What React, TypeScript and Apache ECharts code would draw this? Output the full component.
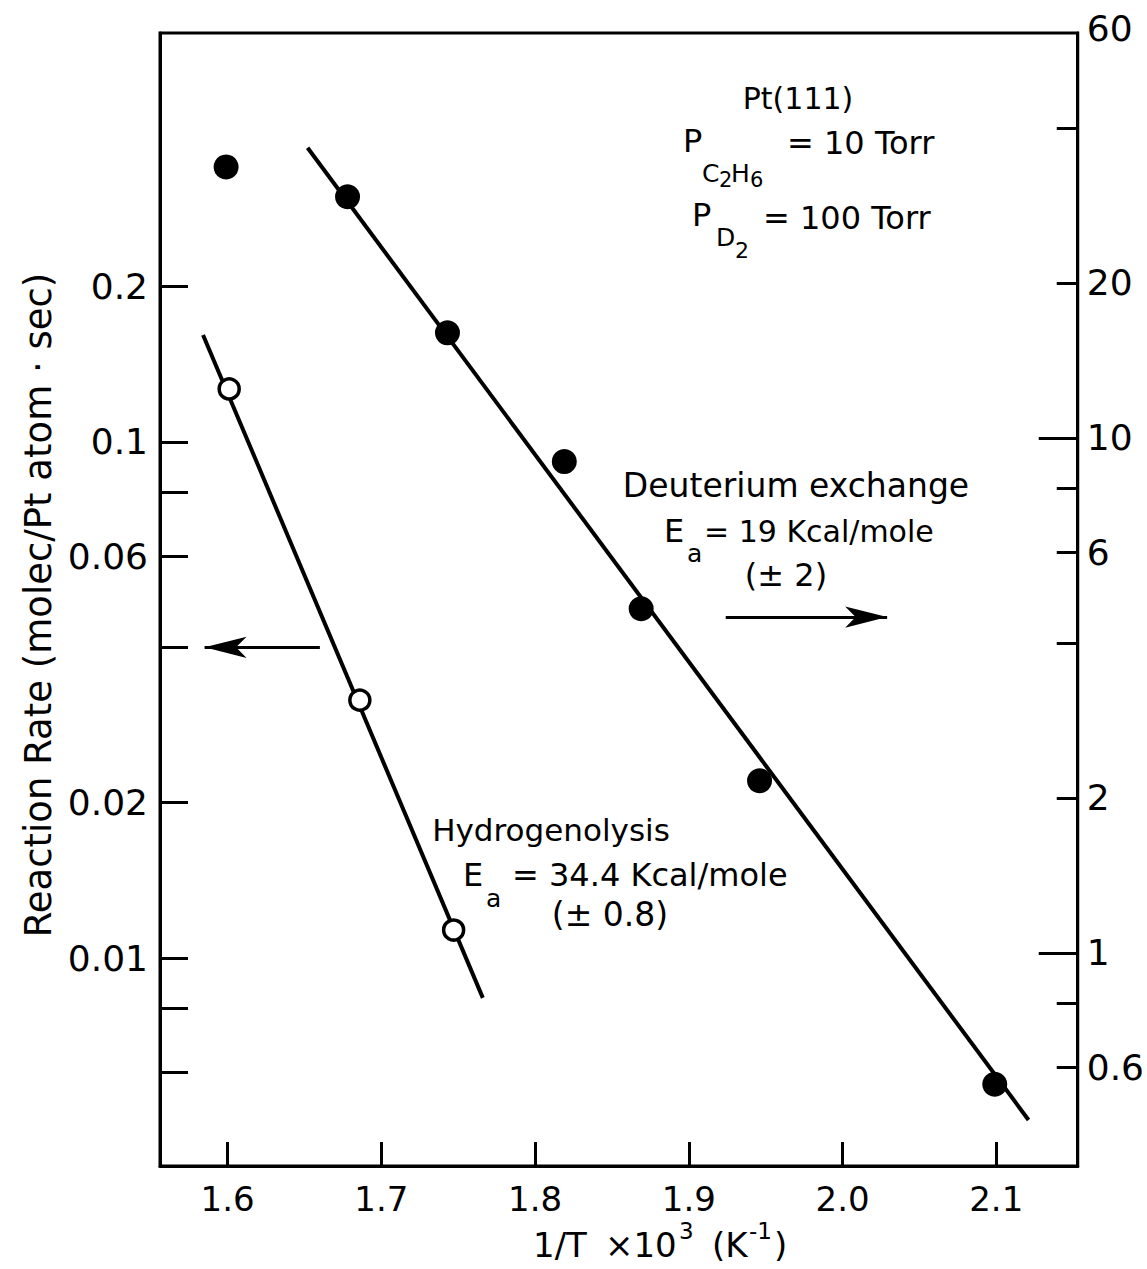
import React, { useEffect, useRef } from "react";
import * as echarts from "echarts";

// ---- data ----
const xTicks = [1.6, 1.7, 1.8, 1.9, 2.0, 2.1];
const leftTickValues = [0.2, 0.1, 0.08, 0.06, 0.04, 0.02, 0.01, 0.008, 0.006];
const leftLabelValues = [0.2, 0.1, 0.06, 0.02, 0.01];
const rightTickValues = [40, 20, 8, 6, 4, 2, 0.8, 0.6];
const rightLongTickValues = [10, 1];
const rightLabelValues = [60, 20, 10, 6, 2, 1, 0.6];

// Deuterium exchange (right axis)
const exchangeX = [1.599, 1.678, 1.743, 1.819, 1.869, 1.946, 2.099];
const exchangeRate = [33.6, 29.4, 16.0, 9.0, 4.66, 2.16, 0.556];
const exchangeFitX = [1.652, 2.121];
const exchangeFitRate = [36.6, 0.474];

// Hydrogenolysis (left axis)
const hydroX = [1.601, 1.686, 1.747];
const hydroRate = [0.1267, 0.0316, 0.01133];
const hydroFitX = [1.584, 1.766];
const hydroFitRate = [0.1612, 0.00837];

// arrows
const leftArrowX = [1.66, 1.585];
const leftArrowRate = 0.04;
const rightArrowX = [1.924, 2.029];
const rightArrowRate = 4.49;

// axis ranges
const xMin = 1.556;
const xMax = 2.153;
const leftMin = 0.003953;
const leftMax = 0.6203;
const rightMin = 0.3858;
const rightMax = 61.15;

const FONT = '"DejaVu Sans", sans-serif';
const lg = (v: number) => Math.log10(v);
const labelFor = (list: number[]) => (v: number) => {
  const hit = list.find((t) => Math.abs(lg(t) - v) < 1e-6);
  return hit === undefined ? "" : String(hit);
};

const txt = (
  text: string,
  x: number,
  y: number,
  size: number,
  align: string = "left",
  extra: any = {},
  styleExtra: any = {}
) => ({
  type: "text",
  x,
  y,
  silent: true,
  ...extra,
  style: {
    text,
    fill: "#000",
    fontSize: size,
    fontFamily: FONT,
    align,
    verticalAlign: "middle",
    ...styleExtra,
  },
});

export default function App() {
  const ref = useRef<HTMLDivElement>(null);

  useEffect(() => {
    if (!ref.current) return;
    const chart = echarts.init(ref.current, null, { renderer: "svg" });

    const axisLine = { show: true, onZero: false, lineStyle: { color: "#000", width: 3 } };
    const tickStyle = { color: "#000", width: 3 };
    const rightLabel = labelFor(rightLabelValues);

    const option: any = {
      animation: false,
      backgroundColor: "#fff",
      grid: {
        left: 160,
        right: 66,
        top: 33,
        bottom: 103,
        show: true,
        borderColor: "#000",
        borderWidth: 3,
      },
      xAxis: {
        type: "value",
        min: xMin,
        max: xMax,
        axisLine,
        splitLine: { show: false },
        axisTick: {
          show: true,
          inside: true,
          length: 24,
          lineStyle: tickStyle,
          customValues: xTicks,
        },
        axisLabel: {
          customValues: xTicks,
          formatter: (v: number) => v.toFixed(1),
          fontSize: 34,
          fontFamily: FONT,
          color: "#000",
          margin: 16,
        },
      },
      yAxis: [
        {
          type: "value",
          position: "left",
          min: lg(leftMin),
          max: lg(leftMax),
          axisLine,
          splitLine: { show: false },
          axisTick: {
            show: true,
            inside: true,
            length: 28,
            lineStyle: tickStyle,
            customValues: leftTickValues.map(lg),
          },
          axisLabel: {
            customValues: leftLabelValues.map(lg),
            formatter: labelFor(leftLabelValues),
            fontSize: 36,
            fontFamily: FONT,
            color: "#000",
            margin: 12,
          },
        },
        {
          type: "value",
          position: "right",
          min: lg(rightMin),
          max: lg(rightMax),
          axisLine,
          splitLine: { show: false },
          axisTick: {
            show: true,
            inside: true,
            length: 21,
            lineStyle: tickStyle,
            customValues: rightTickValues.map(lg),
          },
          axisLabel: {
            customValues: rightLabelValues.map(lg),
            formatter: (v: number) => {
              const s = rightLabel(v);
              return s === "60" ? "{top|60}" : s;
            },
            rich: {
              top: { fontSize: 36, fontFamily: FONT, color: "#000", padding: [0, 0, 18, 0] },
            },
            fontSize: 36,
            fontFamily: FONT,
            color: "#000",
            margin: 9,
          },
        },
        {
          type: "value",
          position: "right",
          min: lg(rightMin),
          max: lg(rightMax),
          axisLine: { show: false },
          splitLine: { show: false },
          axisTick: {
            show: true,
            inside: true,
            length: 39,
            lineStyle: tickStyle,
            customValues: rightLongTickValues.map(lg),
          },
          axisLabel: { show: false },
        },
      ],
      series: [
        {
          type: "line",
          yAxisIndex: 0,
          showSymbol: false,
          symbol: "none",
          lineStyle: { color: "#000", width: 4 },
          data: hydroFitX.map((x, i) => [x, lg(hydroFitRate[i])]),
          markLine: {
            silent: true,
            symbol: ["none", "arrow"],
            label: { show: false },
            lineStyle: { color: "#000", width: 3, type: "solid" },
            data: [
              [
                { coord: [leftArrowX[0], lg(leftArrowRate)], symbol: "none" },
                { coord: [leftArrowX[1], lg(leftArrowRate)], symbol: "arrow", symbolSize: [16, 42] },
              ],
            ],
          },
          z: 2,
        },
        {
          type: "scatter",
          yAxisIndex: 0,
          symbol: "circle",
          symbolSize: 20,
          itemStyle: { color: "#fff", borderColor: "#000", borderWidth: 3.5, opacity: 1 },
          data: hydroX.map((x, i) => [x, lg(hydroRate[i])]),
          z: 3,
        },
        {
          type: "line",
          yAxisIndex: 1,
          showSymbol: false,
          symbol: "none",
          lineStyle: { color: "#000", width: 4 },
          data: exchangeFitX.map((x, i) => [x, lg(exchangeFitRate[i])]),
          markLine: {
            silent: true,
            symbol: ["none", "arrow"],
            label: { show: false },
            lineStyle: { color: "#000", width: 3, type: "solid" },
            data: [
              [
                { coord: [rightArrowX[0], lg(rightArrowRate)], symbol: "none" },
                { coord: [rightArrowX[1], lg(rightArrowRate)], symbol: "arrow", symbolSize: [16, 42] },
              ],
            ],
          },
          z: 2,
        },
        {
          type: "scatter",
          yAxisIndex: 1,
          symbol: "circle",
          symbolSize: 25,
          itemStyle: { color: "#000", opacity: 1 },
          data: exchangeX.map((x, i) => [x, lg(exchangeRate[i])]),
          z: 3,
        },
      ],
      graphic: [
        txt("Pt(111)", 798, 98, 30, "center"),
        txt("P", 683, 141, 32),
        txt("C", 702, 173, 25),
        txt("2", 719, 180, 21),
        txt("H", 731, 173, 25),
        txt("6", 750, 180, 21),
        txt("= 10 Torr", 787, 143, 32),
        txt("P", 692, 215, 32),
        txt("D", 716, 237, 25),
        txt("2", 735, 250, 22),
        txt("= 100 Torr", 763, 218, 32),
        txt("Deuterium exchange", 796, 485, 33, "center"),
        txt("E", 664, 531, 32),
        txt("a", 687, 553, 25),
        txt("= 19 Kcal/mole", 704, 531, 30),
        txt("(± 2)", 786, 575, 32, "center"),
        txt("Hydrogenolysis", 551, 830, 31, "center"),
        txt("E", 463, 875, 32),
        txt("a", 486, 898, 25),
        txt("= 34.4 Kcal/mole", 512, 875, 32),
        txt("(± 0.8)", 610, 914, 33, "center"),
        txt("Reaction Rate (molec/Pt atom · sec)", 38, 605, 37, "center", {
          rotation: Math.PI / 2,
        }),
        txt("1/T", 533, 1245, 34),
        txt("×10", 605, 1245, 34),
        txt("3", 679, 1231, 23),
        txt("(K", 712, 1245, 34),
        txt("-1", 749, 1231, 23),
        txt(")", 774, 1245, 34),
      ],
    };

    chart.setOption(option);
    return () => chart.dispose();
  }, []);

  return (
    <div
      ref={ref}
      style={{
        position: "absolute",
        left: 0,
        top: 0,
        width: 1147,
        height: 1269,
        background: "#fff",
      }}
    />
  );
}
